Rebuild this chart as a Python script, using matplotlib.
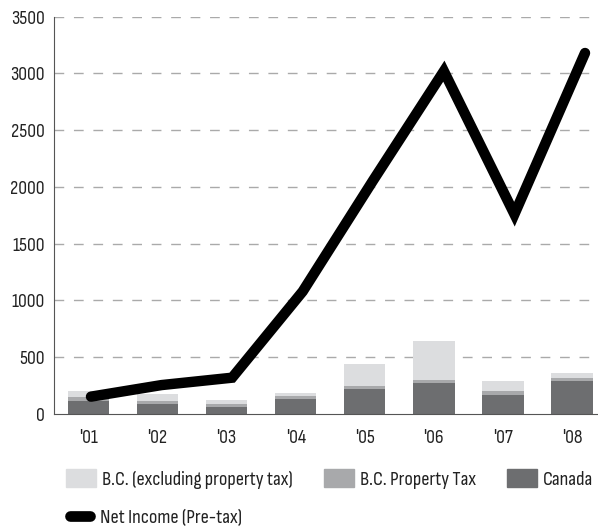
import matplotlib
matplotlib.use("Agg")
import matplotlib.pyplot as plt
import numpy as np
from matplotlib.patches import Patch
from matplotlib.lines import Line2D
from matplotlib.textpath import TextPath
from matplotlib.font_manager import FontProperties

FONT = "Sofia Sans Condensed"
plt.rcParams["font.family"] = [FONT, "DejaVu Sans"]

# data
years = ["'01", "'02", "'03", "'04", "'05", "'06", "'07", "'08"]
canada = [115, 88, 64, 132, 220, 273, 168, 291]
bc_property = [35, 27, 24, 27, 27, 27, 35, 26]
bc_excl_property = [53, 61, 35, 26, 194, 344, 88, 45]
net_income = [153, 255, 320, 1080, 2060, 3020, 1760, 3180]

c_light = "#dcdddf"
c_mid = "#a8a9ab"
c_dark = "#6d6e70"
c_text = "#222222"


def size_for(text, width_px):
    """Font size (pt) that makes text about width_px wide at 100 dpi."""
    w = TextPath((0, 0), text, prop=FontProperties(family=FONT, size=100)).get_extents().width
    return 100 * width_px * 0.72 / w


tick_fs = size_for("3500", 32)
leg_fs = size_for("B.C. (excluding property tax)", 189)

fig = plt.figure(figsize=(5.98, 5.26), dpi=100)
ax = fig.add_axes([0.0903, 0.2129, 0.9097, 0.7554])

x = np.arange(len(years))
canada = np.array(canada)
bc_property = np.array(bc_property)
bc_excl_property = np.array(bc_excl_property)

w = 0.6
ax.bar(x, canada, width=w, color=c_dark, zorder=2)
ax.bar(x, bc_property, width=w, bottom=canada, color=c_mid, zorder=2)
ax.bar(x, bc_excl_property, width=w, bottom=canada + bc_property, color=c_light, zorder=2)

ax.set_xlim(-0.5, 7.377)
ax.set_ylim(0, 3500)
ax.set_yticks(range(0, 3501, 500))
ax.set_xticks(x)
ax.set_xticklabels(years)
ax.tick_params(axis="both", length=0, labelsize=tick_fs, colors=c_text)
ax.tick_params(axis="x", pad=11)
ax.tick_params(axis="y", pad=6.5)
for gy in range(500, 3501, 500):
    ax.axhline(gy, color="#aaaaaa", lw=1.0, dashes=(7, 7), zorder=1)
for s in ["top", "right"]:
    ax.spines[s].set_visible(False)
ax.spines["left"].set_color("#555555")
ax.spines["bottom"].set_color("#555555")

# net income line sits on its own x scale, slightly wider than the bars
ax2 = ax.twiny()
ax2.plot(np.arange(len(years)), net_income, color="black", lw=7.5,
         solid_capstyle="round", solid_joinstyle="miter", zorder=5)
ax2.set_xlim(-0.524, 7.184)
ax2.set_ylim(0, 3500)
ax2.set_xticks([])
for s in ax2.spines.values():
    s.set_visible(False)

em = leg_fs / 0.72  # px per em
handles = [Patch(color=c_light, label="B.C. (excluding property tax)"),
           Patch(color=c_mid, label="B.C. Property Tax"),
           Patch(color=c_dark, label="Canada")]
leg1 = fig.legend(handles=handles, loc="center left", bbox_to_anchor=(0.110, 0.0894),
                  ncol=3, columnspacing=31 / em, frameon=False, fontsize=leg_fs,
                  handlelength=30 / em, handleheight=21 / em, handletextpad=6 / em,
                  borderaxespad=0, borderpad=0)
# round caps stick out past the handle box, so the box is shorter here
leg2 = fig.legend(handles=[Line2D([], [], color="black", lw=7.7, solid_capstyle="round",
                                  label="Net Income (Pre-tax)")],
                  loc="center left", bbox_to_anchor=(0.1177, 0.016), frameon=False,
                  fontsize=leg_fs, handlelength=20 / em, handletextpad=9.5 / em,
                  borderaxespad=0, borderpad=0)
for leg in (leg1, leg2):
    for t in leg.get_texts():
        t.set_color(c_text)

fig.savefig("out.png", dpi=100)
